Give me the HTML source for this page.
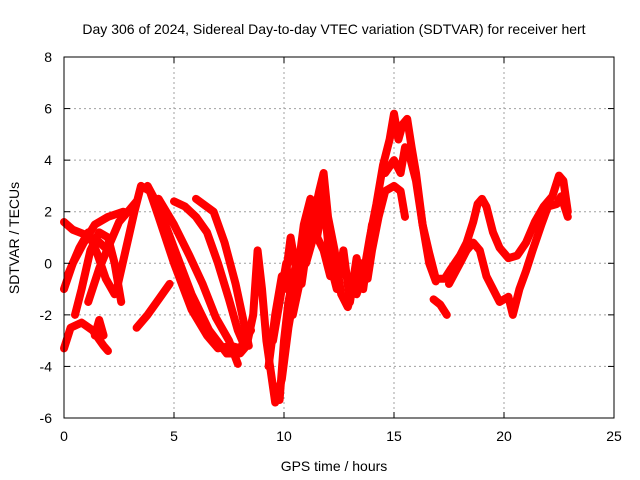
<!DOCTYPE html>
<html><head><meta charset="utf-8"><style>
html,body{margin:0;padding:0;background:#fff}
svg{display:block;font-family:"Liberation Sans",sans-serif}
</style></head><body>
<svg id="chart" width="640" height="480" viewBox="0 0 640 480">
<text x="334" y="34" font-size="14" text-anchor="middle">Day 306 of 2024, Sidereal Day-to-day VTEC variation (SDTVAR) for receiver hert</text>
<g id="grid"></g><g id="marks"></g><g id="axes"></g>
<text x="334" y="471" font-size="14" text-anchor="middle">GPS time / hours</text>
<text transform="translate(19,238) rotate(-90)" font-size="14" text-anchor="middle">SDTVAR / TECUs</text>
</svg>
<script>
const xTicks=[0,5,10,15,20,25];
const yTicks=[-6,-4,-2,0,2,4,6,8];
const tracks=[
[[0,1.6],[0.4,1.3],[1,1.1],[1.5,0.9],[2,0.5]],
[[0,-1],[0.4,0],[0.9,0.8],[1.4,1.5],[2,1.8],[2.7,2.0]],
[[0,-3.3],[0.3,-2.5],[0.8,-2.3],[1.3,-2.6],[1.8,-3.2],[2,-3.4]],
[[0.2,-0.4],[0.7,0.6],[1.1,1.2],[1.5,0.4],[1.9,-0.6],[2.3,-1.2]],
[[1.1,-1.5],[1.6,-0.2],[2.1,0.8],[2.5,1.6],[2.9,2.0],[3.3,2.4]],
[[0.5,-2],[0.8,-1],[1.2,0.5],[1.6,1.2],[2,1.0],[2.3,0],[2.6,-1.5]],
[[1.4,-2.8],[1.6,-2.2],[1.8,-2.8]],
[[2.4,-1],[2.8,0.5],[3.2,2.0],[3.5,3.0],[3.9,2.8],[4.3,1.8],[5,0],[5.8,-1.8],[6.5,-2.8],[7,-3.3],[7.6,-3.2],[8,-3.3],[8.5,-2.6]],
[[3.8,3.0],[4.3,2.2],[5,0.6],[5.8,-1.2],[6.6,-2.6],[7.4,-3.5],[8,-3.5],[8.3,-3.2]],
[[4.3,2.5],[5,1.5],[5.7,0.3],[6.3,-0.8],[6.9,-2.1],[7.5,-3.0],[7.9,-3.9]],
[[5,2.4],[5.5,2.2],[6,1.8],[6.5,1.2],[7,0],[7.5,-1.4],[7.9,-2.6],[8.2,-3.2]],
[[6,2.5],[6.8,2.0],[7.3,0.8],[7.8,-0.8],[8.1,-2.0],[8.4,-3.2]],
[[3.3,-2.5],[3.8,-2.0],[4.3,-1.4],[4.8,-0.8]],
[[8.3,-3.2],[8.6,-2],[8.8,0.5],[9,-1],[9.2,-3],[9.4,-4.2],[9.6,-5.4],[9.9,-4.5],[10.2,-2.5],[10.5,-1],[10.8,0]],
[[9.3,-4],[9.6,-2],[9.9,-0.5],[10.2,-0.8],[10.5,-0.3],[10.8,0.2],[11,1]],
[[9.8,-5.3],[10,-3],[10.2,-1.5],[10.6,0.2],[11,0.8]],
[[9.5,-3],[9.8,-1.5],[10.1,0],[10.4,-2],[10.7,-0.8],[11,0.5]],
[[10,-1],[10.3,1],[10.6,-0.5],[10.9,1.5],[11.2,2.5],[11.5,1],[11.8,2.5],[12.1,0],[12.4,-1],[12.7,0.5],[13,-1.5],[13.3,0.2],[13.6,-1],[14,1.5]],
[[10.8,-0.8],[11.1,1.0],[11.4,2.0],[11.6,2.8],[11.8,3.5],[12,1.8],[12.3,0.5],[12.6,-1.2],[12.9,-1.7],[13.2,-0.8],[13.5,0],[13.8,-0.6],[14,0.5],[14.3,1.8],[14.6,2.8],[15,3.0],[15.3,2.8],[15.5,1.8]],
[[11,0],[11.4,1.2],[11.8,0.5],[12.1,-0.5],[12.5,-0.3],[12.9,-0.5],[13.3,-1.2],[13.6,-0.5],[13.9,1.0],[14.2,2.3],[14.5,3.8],[14.8,4.8],[15,5.8],[15.2,4.8],[15.4,5.4],[15.6,5.6],[15.8,4.5],[16,3.5],[16.3,1.5],[16.6,0.4],[16.9,-0.6]],
[[14.6,3.5],[15,4.0],[15.3,3.5],[15.5,4.5],[15.7,4.2],[16,3.2],[16.3,1.5],[16.6,0],[16.9,-0.7]],
[[16.8,-1.4],[17.1,-1.6],[17.4,-2.0]],
[[16.9,-0.6],[17.3,-0.6],[17.6,-0.2],[18,0.3],[18.3,0.8],[18.6,1.6],[18.8,2.3],[19,2.5],[19.2,2.2],[19.5,1.2],[19.8,0.6],[20.2,0.2],[20.6,0.3],[21,0.8],[21.4,1.6],[21.8,2.2],[22.2,2.6],[22.5,3.4],[22.7,3.2],[22.9,2.0]],
[[17.5,-0.8],[18,0],[18.3,0.5],[18.6,0.8],[18.9,0.5],[19.2,-0.5],[19.5,-1.0],[19.8,-1.5],[20.2,-1.3],[20.4,-2.0],[20.7,-1.0],[21,-0.3],[21.3,0.5],[21.7,1.5],[22,2.2],[22.4,2.3],[22.6,2.6],[22.9,1.8]]
];
const NS="http://www.w3.org/2000/svg";
const X0=64,X1=614,Y0=418,Y1=57;
function sx(t){return X0+(t-0)/(25-0)*(X1-X0);}
function sy(v){return Y0-(v+6)/(14)*(Y0-Y1);}
function mk(tag,attrs,parent){const e=document.createElementNS(NS,tag);for(const k in attrs)e.setAttribute(k,attrs[k]);parent.appendChild(e);return e;}
const grid=document.getElementById('grid'),axes=document.getElementById('axes'),marks=document.getElementById('marks');
xTicks.forEach(t=>{
  const x=sx(t);
  if(t>0&&t<25){const g=mk('line',{x1:x,x2:x,y1:Y1,y2:Y0,stroke:'#a0a0a0','stroke-dasharray':'2,3'},grid);
  
  }
  mk('line',{x1:x,x2:x,y1:Y0,y2:Y0-6,stroke:'#000'},axes);
  mk('line',{x1:x,x2:x,y1:Y1,y2:Y1+6,stroke:'#000'},axes);
  const l=mk('text',{x:x,y:Y0+23,'font-size':14,'text-anchor':'middle'},axes);
  l.textContent=t;
  
  
});
yTicks.forEach(v=>{
  const y=sy(v);
  if(v>-6&&v<8){const g=mk('line',{x1:X0,x2:X1,y1:y,y2:y,stroke:'#a0a0a0','stroke-dasharray':'2,3'},grid);
  
  }
  mk('line',{x1:X0,x2:X0+6,y1:y,y2:y,stroke:'#000'},axes);
  mk('line',{x1:X1,x2:X1-6,y1:y,y2:y,stroke:'#000'},axes);
  const l=mk('text',{x:X0-12,y:y+5,'font-size':14,'text-anchor':'end'},axes);
  l.textContent=v;
  
  
});
const fr=mk('rect',{x:X0,y:Y1,width:X1-X0,height:Y0-Y1,fill:'none',stroke:'#000'},axes);


tracks.forEach((tr,i)=>{
  const p=mk('polyline',{points:tr.map(d=>sx(d[0])+','+sy(d[1])).join(' '),fill:'none',stroke:'#ff0000','stroke-width':8,'stroke-linejoin':'round','stroke-linecap':'round'},marks);
  
  
});
</script>
</body></html>
